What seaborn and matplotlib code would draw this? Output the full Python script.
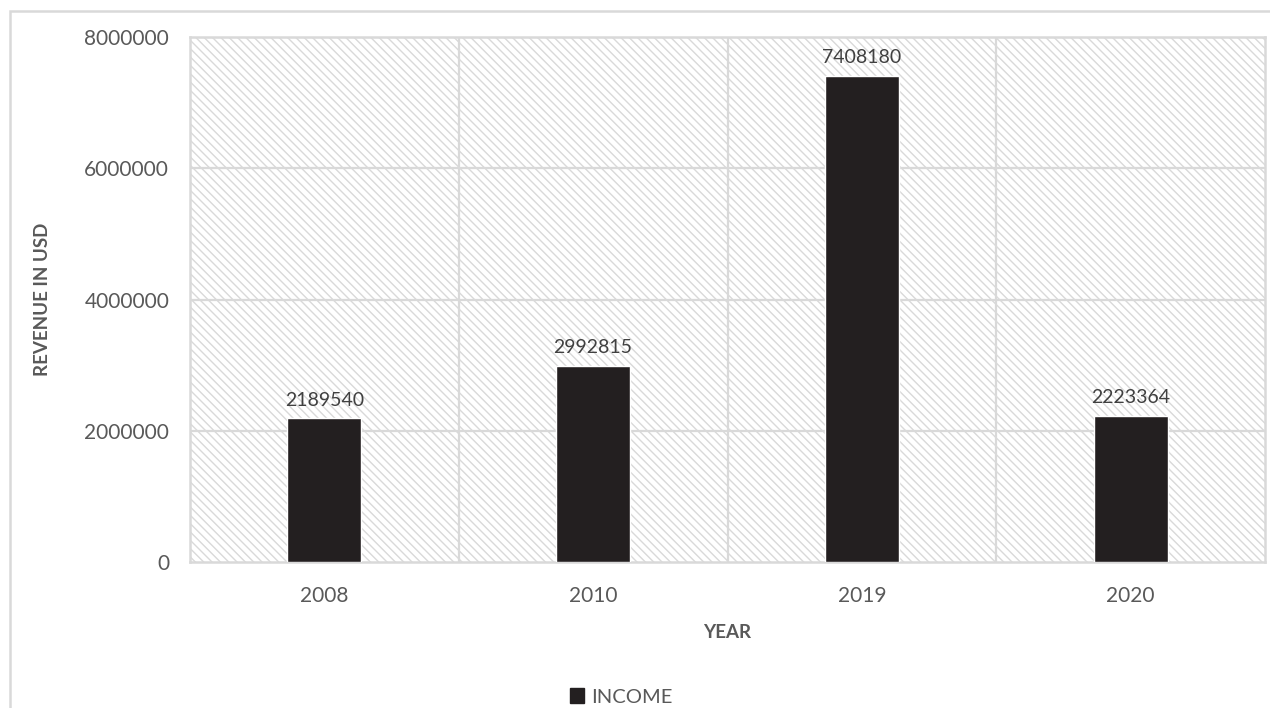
import matplotlib
matplotlib.use("Agg")
import matplotlib.pyplot as plt
from matplotlib.patches import Rectangle, Patch
import seaborn as sns
import pandas as pd

years = ["2008", "2010", "2019", "2020"]
income = [2189540, 2992815, 7408180, 2223364]
y_ticks = [0, 2000000, 4000000, 6000000, 8000000]

df = pd.DataFrame({"YEAR": years, "INCOME": income})

sns.set_theme(style="white")
plt.rcParams["font.family"] = ["Lato", "DejaVu Sans"]
plt.rcParams["hatch.color"] = "#d6d6d6"
plt.rcParams["hatch.linewidth"] = 1.0

GRID = "#d9d9d9"
TEXT = "#595959"
BAR = "#231f20"

fig = plt.figure(figsize=(12.7, 7.08), dpi=100)
ax = fig.add_axes([190 / 1270, 1 - 562 / 708, (1265 - 190) / 1270, (562 - 37) / 708])

# hatched plot background
ax.patch.set_facecolor("white")
ax.patch.set_hatch("\\\\\\\\")
ax.patch.set_edgecolor(GRID)

sns.barplot(data=df, x="YEAR", y="INCOME", color=BAR, width=0.275,
            saturation=1, ax=ax, zorder=3)

ax.set_ylim(0, 8000000)
ax.set_xlim(-0.5, len(years) - 0.5)
ax.set_yticks(y_ticks)
ax.set_yticklabels([str(t) for t in y_ticks])

# gridlines: horizontal at ticks, vertical at category boundaries
for t in y_ticks[1:]:
    ax.axhline(t, color=GRID, lw=1.6, zorder=1)
for b in range(1, len(years)):
    ax.axvline(b - 0.5, color=GRID, lw=1.6, zorder=1)

for s in ax.spines.values():
    s.set_visible(True)
    s.set_color(GRID)
    s.set_linewidth(1.8)

ax.tick_params(axis="both", length=0, colors=TEXT, labelsize=15)
ax.tick_params(axis="x", pad=17)
ax.tick_params(axis="y", pad=15)

ax.set_xlabel("YEAR", fontsize=13.5, fontweight="bold", color=TEXT, labelpad=13)
ax.set_ylabel("REVENUE IN USD", fontsize=13.5, fontweight="bold", color=TEXT, labelpad=24)

for container in ax.containers:
    ax.bar_label(container, labels=[str(v) for v in income], padding=7,
                 fontsize=14, color="#404040")

# outer chart frame
fig.add_artist(Rectangle((10 / 1270, -0.2), 1.2, 1 - 11 / 708 + 0.2,
                         transform=fig.transFigure, fill=False,
                         edgecolor=GRID, lw=1.8, zorder=0))

fig.legend(handles=[Patch(facecolor=BAR, edgecolor=BAR, label="INCOME")],
           loc="center", bbox_to_anchor=(621 / 1270, 1 - 697 / 708),
           frameon=False, fontsize=14.5, labelcolor=TEXT,
           handlelength=0.7, handleheight=0.7, handletextpad=0.35)

fig.savefig("out.png", dpi=100)
